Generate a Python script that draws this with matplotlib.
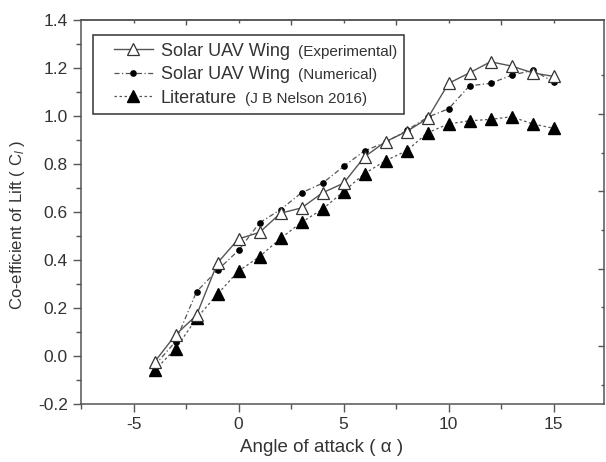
import matplotlib
matplotlib.use('Agg')
import matplotlib.pyplot as plt
from matplotlib.patches import Rectangle
from matplotlib.ticker import MultipleLocator, FixedLocator, FormatStrFormatter, NullFormatter

plt.rcParams['font.family'] = ['Liberation Sans', 'DejaVu Sans']
plt.rcParams['axes.unicode_minus'] = False
plt.rcParams['mathtext.fontset'] = 'custom'
plt.rcParams['mathtext.rm'] = 'Liberation Sans'
plt.rcParams['mathtext.it'] = 'Liberation Sans:italic'

# ---- data ----
alpha = [-4, -3, -2, -1, 0, 1, 2, 3, 4, 5, 6, 7, 8, 9, 10, 11, 12, 13, 14, 15]
cl_experimental = [-0.025, 0.088, 0.17, 0.388, 0.488, 0.515, 0.595, 0.617, 0.68, 0.72,
                   0.83, 0.893, 0.935, 0.99, 1.136, 1.18, 1.226, 1.208, 1.18, 1.165]
cl_numerical = [-0.04, 0.06, 0.268, 0.358, 0.44, 0.555, 0.61, 0.68, 0.72, 0.79,
                0.855, 0.89, 0.94, 0.995, 1.03, 1.126, 1.136, 1.17, 1.19, 1.143]
cl_literature = [-0.06, 0.03, 0.157, 0.258, 0.354, 0.414, 0.49, 0.557, 0.612, 0.685,
                 0.76, 0.814, 0.855, 0.93, 0.967, 0.98, 0.986, 0.997, 0.967, 0.949]

label_main = ['Solar UAV Wing', 'Solar UAV Wing', 'Literature']
label_suffix = ['(Experimental)', '(Numerical)', '(J B Nelson 2016)']

TXT = '#333333'
LN = '#555555'
LEG_FS = 13
SUF_FS = 11

W, H = 606, 462
fig = plt.figure(figsize=(W / 100, H / 100), dpi=100)
ax = fig.add_axes([81 / W, 58 / H, 523 / W, 384 / H])

l1, = ax.plot(alpha, cl_experimental, ls='-', color=LN, lw=1.0, marker='^', ms=8.5,
              mfc='white', mec='#333333', mew=0.9, zorder=4)
l2, = ax.plot(alpha, cl_numerical, ls=(0, (4, 2, 1, 2)), color=LN, lw=0.9, marker='o',
              ms=3.8, mfc='black', mec='black', zorder=3)
l3, = ax.plot(alpha, cl_literature, ls=(0, (2, 2)), color=LN, lw=0.9, marker='^',
              ms=8.5, mfc='black', mec='black', zorder=2)

ax.set_xlim(-7.5, 17.4)
ax.set_ylim(-0.2, 1.4)
ax.xaxis.set_major_locator(MultipleLocator(5))
ax.xaxis.set_minor_locator(MultipleLocator(2.5))
ax.yaxis.set_major_locator(MultipleLocator(0.2))
ax.yaxis.set_minor_locator(MultipleLocator(0.1))
ax.yaxis.set_major_formatter(FormatStrFormatter('%.1f'))
ax.tick_params(which='both', direction='out', colors='#555555', labelcolor=TXT,
               labelsize=12.5, width=1.0, top=False, right=False)
ax.tick_params(which='major', length=6)
ax.tick_params(which='minor', length=3.5)
for s in ax.spines.values():
    s.set_color('#555555')
    s.set_linewidth(1.1)

# top axis ticks (offset, inward)
top = ax.secondary_xaxis('top')
top.xaxis.set_major_locator(FixedLocator([-2.5, 2.5, 7.5, 12.5]))
top.xaxis.set_minor_locator(FixedLocator([-5, 0, 5, 10, 15]))
top.tick_params(which='both', direction='in', colors='#555555', labeltop=False, width=1.0)
top.tick_params(which='major', length=3.5)
top.tick_params(which='minor', length=2)
top.xaxis.set_major_formatter(NullFormatter())
top.spines['top'].set_color('#555555')
top.spines['top'].set_linewidth(1.1)

# right axis ticks (independent spacing, inward)
rt = ax.twinx()
rt.set_ylim(-0.151 / 0.2015, 0.849 / 0.2015)
rt.yaxis.set_major_locator(FixedLocator([0, 1, 2, 3]))
rt.yaxis.set_minor_locator(FixedLocator([-0.5, 0.5, 1.5, 2.5, 3.5]))
rt.yaxis.set_major_formatter(NullFormatter())
rt.tick_params(which='both', direction='in', colors='#555555', width=1.0)
rt.tick_params(which='major', length=4)
rt.tick_params(which='minor', length=2.5)
for s in rt.spines.values():
    s.set_visible(False)

ax.set_xlabel('Angle of attack ( \u03b1 )', fontsize=13.5, color=TXT)
ax.xaxis.set_label_coords((322 - 81) / 523, -0.092)
ax.set_ylabel('Co-efficient of Lift ( C$_{l}$ )', fontsize=12, color=TXT)
ax.yaxis.set_label_coords(-0.104, (404 - 225) / 384)

leg = ax.legend([l1, l2, l3], label_main, loc='upper left',
                bbox_to_anchor=((106 - 81) / 523, (404 - 35) / 384), borderaxespad=0,
                fontsize=LEG_FS, handlelength=2.2, handletextpad=0.4, labelspacing=0.36,
                borderpad=0.42, frameon=False)
for t in leg.get_texts():
    t.set_color(TXT)
leg.set_zorder(10)

fig.canvas.draw()
r = fig.canvas.get_renderer()
right_edge = 0
for t, suf in zip(leg.get_texts(), label_suffix):
    desc = LEG_FS * 0.212
    ann = ax.annotate(suf, xy=(1, 0), xycoords=t,
                      xytext=(6, desc), textcoords='offset points',
                      fontsize=SUF_FS, color=TXT, va='baseline', ha='left', zorder=11)
    fig.canvas.draw()
    right_edge = max(right_edge, ann.get_window_extent(r).x1)

lb = leg.get_window_extent(r)
x0 = lb.x0 - 13
frame = Rectangle((x0 / W, lb.y0 / H), (right_edge + 7 - x0) / W, lb.height / H,
                  transform=fig.transFigure, fill=True, facecolor='white',
                  edgecolor='#333333', linewidth=1.1, zorder=9, clip_on=False)
ax.add_artist(frame)

fig.savefig('out.png', dpi=100)
